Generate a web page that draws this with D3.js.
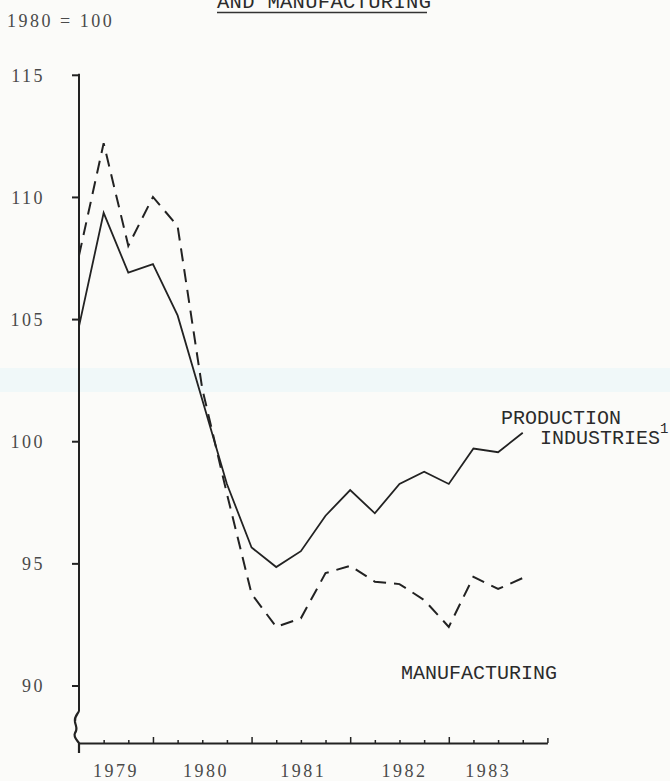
<!DOCTYPE html>
<html lang="en">
<head>
  <meta charset="UTF-8">
  <title>Production industries and manufacturing</title>
  <script src="https://d3js.org/d3.v7.min.js"></script>
  <style>
    body { margin: 0; background: #fbfbf9; }
    .type { font-family: "Liberation Mono", "DejaVu Sans Mono", monospace; fill: #2b2b2b; }
    .num { font-family: "Liberation Serif", "DejaVu Serif", serif; fill: #4a4a4a; letter-spacing: 2.5px; }
  </style>
</head>
<body>
  <div id="chart"></div>

  <script>
    // quarterly index, 1980 = 100 (1979 Q1 .. 1983 Q3)
    const quarters = ["1979 Q1", "1979 Q2", "1979 Q3", "1979 Q4",
                      "1980 Q1", "1980 Q2", "1980 Q3", "1980 Q4",
                      "1981 Q1", "1981 Q2", "1981 Q3", "1981 Q4",
                      "1982 Q1", "1982 Q2", "1982 Q3", "1982 Q4",
                      "1983 Q1", "1983 Q2", "1983 Q3"];
    const production = [104.7, 109.35, 106.9, 107.25, 105.15, 101.7, 98.25, 95.65, 94.85, 95.5,
                        96.95, 98.0, 97.05, 98.25, 98.75, 98.25, 99.7, 99.55, 100.35];
    const manufacturing = [107.6, 112.2, 108.0, 110.0, 108.8, 102.15, 97.85, 93.75, 92.4, 92.75,
                           94.6, 94.9, 94.25, 94.15, 93.5, 92.4, 94.45, 93.95, 94.4];

    const yTicks = [90, 95, 100, 105, 110, 115];
    const yearLabels = ["1979", "1980", "1981", "1982", "1983"];
    const yearLabelAt = [1.5, 5.15, 9.1, 13.2, 16.6];   // in quarter steps
    const longTicks = [3, 7, 11, 15];

    const W = 670, H = 781;
    const svg = d3.select("#chart").append("svg")
      .attr("width", W).attr("height", H);

    // faint band left by the scanner
    svg.append("rect").attr("x", 0).attr("y", 368).attr("width", W).attr("height", 24)
      .attr("fill", "#e9f6f8").attr("opacity", 0.6);

    const x = d3.scaleLinear().domain([0, 19]).range([79, 547.4]);
    const y = d3.scaleLinear().domain([90, 115]).range([685.5, 74.8]);
    const baseY = 743;

    const ink = "#222";

    // title (cut at the top of the page, as in the scan)
    svg.append("text").attr("class", "type")
      .attr("x", 217).attr("y", 8)
      .attr("font-size", 20.5).attr("letter-spacing", 0.3)
      .text("AND MANUFACTURING");
    svg.append("line").attr("x1", 217).attr("x2", 427).attr("y1", 12.5).attr("y2", 12.5)
      .attr("stroke", "#333").attr("stroke-width", 1.3);

    svg.append("text").attr("class", "num")
      .attr("x", 7).attr("y", 27).attr("font-size", 18).attr("letter-spacing", 3.5)
      .text("1980 = 100");

    // y axis
    const yAxis = svg.append("g").attr("transform", `translate(${x(0)},0)`);
    yAxis.call(d3.axisLeft(y).tickValues(yTicks).tickSize(7).tickFormat(d3.format("d")));
    yAxis.select(".domain").remove();
    yAxis.selectAll(".tick line").attr("stroke", ink).attr("stroke-width", 2);
    yAxis.selectAll(".tick text").attr("class", "num")
      .attr("x", -34).attr("dy", "0.35em").attr("text-anchor", "end")
      .attr("font-size", 18);

    svg.append("line").attr("x1", x(0)).attr("x2", x(0))
      .attr("y1", y(115) - 1).attr("y2", 711)
      .attr("stroke", ink).attr("stroke-width", 2);
    // axis break
    svg.append("path")
      .attr("d", `M${x(0)},711 C${x(0) - 1},714 ${x(0) - 5},716 ${x(0) - 4},722
                  C${x(0) - 3},727 ${x(0) - 1},729 ${x(0) - 4},733 C${x(0) - 6},737 ${x(0) - 2},740 ${x(0)},743 L${x(0)},753`)
      .attr("fill", "none").attr("stroke", ink).attr("stroke-width", 2.2);

    // x axis
    const xAxis = svg.append("g").attr("transform", `translate(0,${baseY})`);
    xAxis.call(d3.axisBottom(x).tickValues(d3.range(1, 20)).tickSizeInner(-3).tickSizeOuter(0).tickFormat(""));
    xAxis.select(".domain").attr("stroke", ink).attr("stroke-width", 2);
    xAxis.selectAll(".tick line").attr("stroke", ink).attr("stroke-width", 1.5)
      .attr("y2", d => longTicks.includes(d) ? -6 : (d === 19 ? -5 : -3));

    svg.append("g").selectAll("text")
      .data(yearLabels)
      .join("text")
      .attr("class", "num")
      .attr("x", (d, i) => x(yearLabelAt[i]))
      .attr("y", 777)
      .attr("text-anchor", "middle")
      .attr("font-size", 18)
      .text(d => d);

    // series
    const line = d3.line().x((d, i) => x(i)).y(d => y(d));

    svg.append("path").datum(production)
      .attr("d", line)
      .attr("fill", "none").attr("stroke", ink).attr("stroke-width", 1.8)
      .attr("stroke-linejoin", "miter");

    svg.append("path").datum(manufacturing)
      .attr("d", line)
      .attr("fill", "none").attr("stroke", ink).attr("stroke-width", 2)
      .attr("stroke-dasharray", "13,8");

    // series labels
    svg.append("text").attr("class", "type").attr("font-size", 20)
      .attr("x", 501).attr("y", 424).text("PRODUCTION");
    const ind = svg.append("text").attr("class", "type").attr("font-size", 20)
      .attr("x", 540).attr("y", 444);
    ind.append("tspan").text("INDUSTRIES");
    ind.append("tspan").attr("font-size", 14).attr("dy", -11).text("1");

    svg.append("text").attr("class", "type").attr("font-size", 20)
      .attr("x", 401).attr("y", 679).text("MANUFACTURING");
  </script>
</body>
</html>
